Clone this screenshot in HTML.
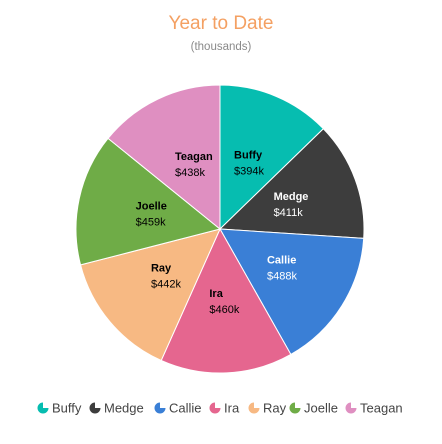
<!DOCTYPE html>
<html><head><meta charset="utf-8"><style>
body{margin:0;background:#fff;width:442px;height:439px;overflow:hidden;font-family:"Liberation Sans",sans-serif}
</style></head><body>
<svg id="chart" width="442" height="439">
<text x="221" y="29" text-anchor="middle" font-size="19" fill="#f4a062">Year to Date</text>
<text x="221" y="50" text-anchor="middle" font-size="11.5" fill="#8a8a8a">(thousands)</text>
<g id="slices"></g><g id="labels"></g><g id="legend"></g>
</svg>
<script>
const names=["Buffy","Medge","Callie","Ira","Ray","Joelle","Teagan"];
const values=[394,411,488,460,442,459,438];
const colors=["#06bdb0","#3d3d3d","#3a7fd6","#e5668f","#f7b983","#6fac47","#df8fc1"];
const textColors=["#000","#fff","#fff","#000","#000","#000","#000"];
const legendX=[43,95,160,215,254,295,351];
const NS="http://www.w3.org/2000/svg";
const cx=220,cy=229,r=144;
const total=values.reduce((a,b)=>a+b,0);
const sg=document.getElementById('slices'),lg=document.getElementById('labels'),leg=document.getElementById('legend');
function pt(a,rr){return [cx+rr*Math.sin(a),cy-rr*Math.cos(a)];}
let acc=0;
values.forEach((v,i)=>{
 const a0=acc/total*2*Math.PI;acc+=v;const a1=acc/total*2*Math.PI;
 const p0=pt(a0,r),p1=pt(a1,r);
 const p=document.createElementNS(NS,'path');
 p.setAttribute('d',`M${cx},${cy}L${p0[0]},${p0[1]}A${r},${r} 0 ${a1-a0>Math.PI?1:0} 1 ${p1[0]},${p1[1]}Z`);
 p.setAttribute('fill',colors[i]);p.setAttribute('stroke','#fff');p.setAttribute('stroke-width','1');
 
 
 sg.appendChild(p);
 const m=(a0+a1)/2,c=pt(m,r*0.5);
 const t=document.createElementNS(NS,'text');
 t.setAttribute('x',c[0]-14);t.setAttribute('y',c[1]-4);t.setAttribute('font-size','11');t.setAttribute('font-weight','bold');t.setAttribute('fill',textColors[i]);
 t.textContent=names[i];
 
 
 lg.appendChild(t);
 const t2=document.createElementNS(NS,'text');
 t2.setAttribute('x',c[0]-14);t2.setAttribute('y',c[1]+12);t2.setAttribute('font-size','11');t2.setAttribute('fill',textColors[i]);
 t2.textContent='$'+v+'k';
 
 
 lg.appendChild(t2);
 const g=document.createElementNS(NS,'g');
 
 
 const x=legendX[i],y=408,ir=5.5;
 g.innerHTML=`<path d="M${x},${y}L${x},${y-ir}A${ir},${ir} 0 1 0 ${x+ir},${y}Z" fill="${colors[i]}"/><text x="${x+9}" y="${y+4.5}" font-size="13" fill="#444">${names[i]}</text>`;
 leg.appendChild(g);
});
</script>
</body></html>
